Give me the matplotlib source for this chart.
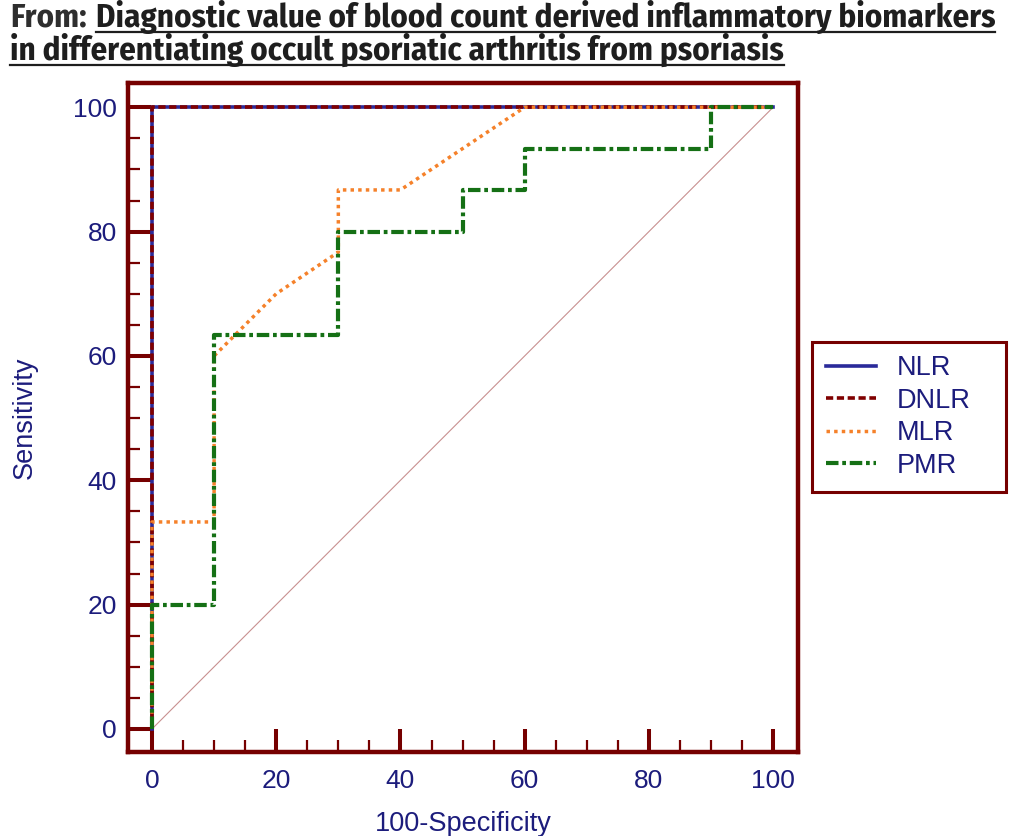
import matplotlib
matplotlib.use("Agg")
import matplotlib.pyplot as plt
from matplotlib import font_manager
from matplotlib.lines import Line2D
from matplotlib.ticker import MultipleLocator

# ---------------------------------------------------------------------------
# data
# ---------------------------------------------------------------------------
nlr_x = [0, 0, 100]
nlr_y = [0, 100, 100]

dnlr_x = [0, 0, 100]
dnlr_y = [0, 100, 100]

mlr_x = [0, 0, 10, 10, 20, 30, 30, 40, 60, 100]
mlr_y = [0, 33.3, 33.3, 60, 70, 76.7, 86.7, 86.7, 100, 100]

pmr_x = [0, 0, 10, 10, 30, 30, 50, 50, 60, 60, 90, 90, 100]
pmr_y = [0, 20, 20, 63.3, 63.3, 80, 80, 86.7, 86.7, 93.3, 93.3, 100, 100]

ref_x = [0, 100]
ref_y = [0, 100]

series_names = ["NLR", "DNLR", "MLR", "PMR"]

title_from = "From:"
title_line1 = "Diagnostic value of blood count derived inflammatory biomarkers"
title_line2 = "in differentiating occult psoriatic arthritis from psoriasis"

# ---------------------------------------------------------------------------
# style
# ---------------------------------------------------------------------------
MAROON = "#760000"
NAVY = "#1c1c7c"
W, H = 1022, 836


def pick_font(names, weight="normal"):
    for n in names:
        try:
            font_manager.findfont(font_manager.FontProperties(family=n, weight=weight),
                                  fallback_to_default=False)
            return n
        except ValueError:
            continue
    return "DejaVu Sans"


body_font = pick_font(["Liberation Sans", "Arial", "DejaVu Sans"])
title_font = pick_font(["Fira Sans Condensed", "Liberation Sans Narrow",
                        "DejaVu Sans Condensed", "Roboto Condensed",
                        "Open Sans", "Noto Sans"], weight="bold")

plt.rcParams["font.family"] = [body_font, "DejaVu Sans"]

fig = plt.figure(figsize=(W / 100, H / 100), dpi=100)
ax = fig.add_axes([128 / W, (H - 752) / H, 670 / W, 669 / H])

# ---------------------------------------------------------------------------
# curves
# ---------------------------------------------------------------------------
ax.plot(ref_x, ref_y, color="#c89090", lw=0.8, zorder=1)
ax.plot(nlr_x, nlr_y, color="#2a2a9a", lw=2.6, ls="-", label=series_names[0], zorder=2)
ax.plot(dnlr_x, dnlr_y, color="#800000", lw=2.6, ls=(0, (2.0, 1.0)),
        label=series_names[1], zorder=3)
ax.plot(mlr_x, mlr_y, color="#f5812a", lw=2.5, ls=(0, (1, 1.2)),
        label=series_names[2], zorder=4)
ax.plot(pmr_x, pmr_y, color="#157015", lw=3.0, ls=(0, (3.0, 0.9, 0.9, 0.9)),
        label=series_names[3], zorder=5)

# ---------------------------------------------------------------------------
# axes frame / ticks
# ---------------------------------------------------------------------------
ax.set_xlim(-3.86, 104.0)
ax.set_ylim(-3.7, 103.9)
for sp in ax.spines.values():
    sp.set_color(MAROON)
    sp.set_linewidth(3.2)

ax.xaxis.set_major_locator(MultipleLocator(20))
ax.xaxis.set_minor_locator(MultipleLocator(5))
ax.yaxis.set_major_locator(MultipleLocator(20))
ax.yaxis.set_minor_locator(MultipleLocator(5))

ax.tick_params(which="both", direction="in", color=MAROON, top=False, right=False)
ax.tick_params(which="major", length=16.5, width=2.9, labelsize=19, labelcolor=NAVY)
ax.tick_params(which="minor", length=8.3, width=1.6)
ax.tick_params(axis="y", which="major", pad=8.0)
ax.tick_params(axis="x", which="major", pad=12.5)

ax.set_xlabel("100-Specificity", fontsize=19.5, color=NAVY)
ax.set_ylabel("Sensitivity", fontsize=19.5, color=NAVY)
ax.xaxis.set_label_coords(0.5, -0.088)
ax.yaxis.set_label_coords(-0.134, 0.5)

# ---------------------------------------------------------------------------
# legend (outside, right)
# ---------------------------------------------------------------------------
leg = ax.legend(loc="center left", mode="expand",
                bbox_to_anchor=(812 / W, (H - 492) / H, 194 / W, 150 / H),
                bbox_transform=fig.transFigure, fontsize=19.5,
                handlelength=1.85, handletextpad=0.78, borderpad=0.5,
                labelspacing=0.24, borderaxespad=0, fancybox=False,
                framealpha=1, edgecolor=MAROON)
leg.get_frame().set_linewidth(2.2)
for t in leg.get_texts():
    t.set_color(NAVY)

# ---------------------------------------------------------------------------
# title with underline
# ---------------------------------------------------------------------------
fig.canvas.draw()
renderer = fig.canvas.get_renderer()


def place_title(size):
    t0 = fig.text(10 / W, 1 - 26.7 / H, title_from, fontsize=size, family=title_font,
                  weight="bold", color="#2e2e2e", va="baseline", ha="left")
    b0 = t0.get_window_extent(renderer)
    x1 = b0.x1 + 0.28 * size * 100 / 72
    t1 = fig.text(x1 / W, 1 - 26.7 / H, title_line1, fontsize=size, family=title_font,
                  weight="bold", color="#1e1e1e", va="baseline", ha="left")
    t2 = fig.text(10 / W, 1 - 60 / H, title_line2, fontsize=size, family=title_font,
                  weight="bold", color="#1e1e1e", va="baseline", ha="left")
    return t0, t1, t2


size = 19
t0, t1, t2 = place_title(size)
right = t1.get_window_extent(renderer).x1
for t in (t0, t1, t2):
    t.remove()
size = size * (997 - 10) / (right - 10)
t0, t1, t2 = place_title(size)

for t, base in ((t1, 26.7), (t2, 60)):
    b = t.get_window_extent(renderer)
    yline = 1 - (base + 4.8) / H
    fig.add_artist(Line2D([b.x0 / W, b.x1 / W], [yline, yline], transform=fig.transFigure,
                          color="#1e1e1e", lw=1.6))

fig.savefig("out.png", dpi=100)
